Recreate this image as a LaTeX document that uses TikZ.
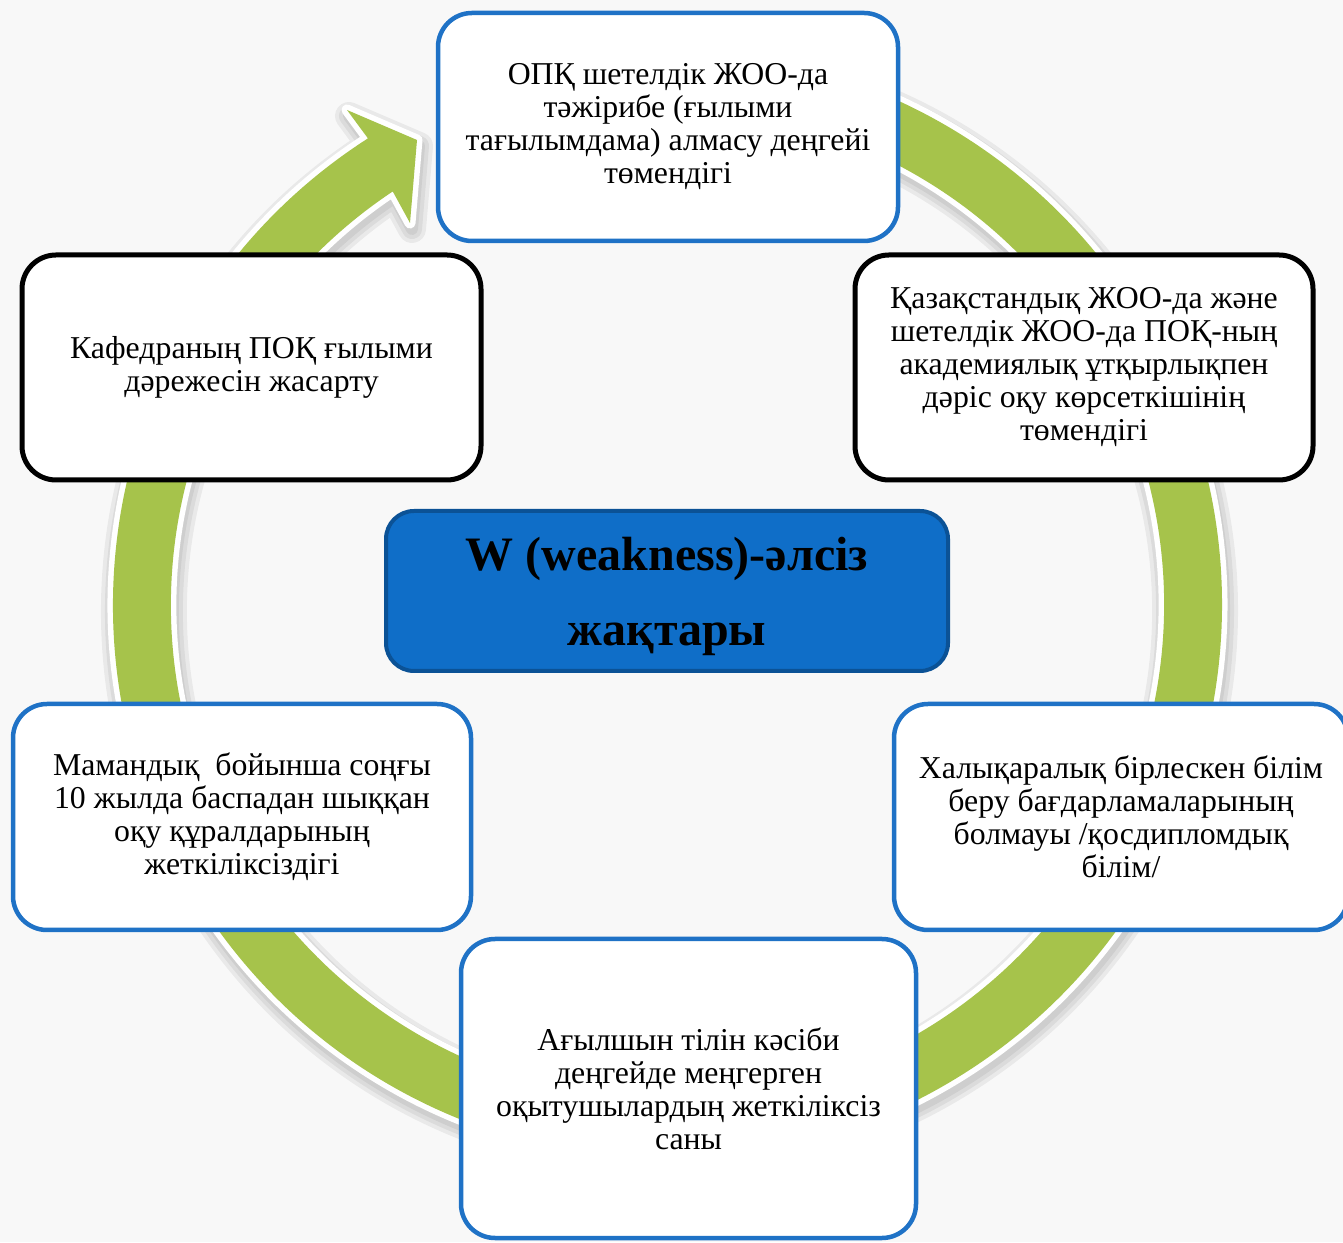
\documentclass[tikz,border=0pt]{standalone}
\usepackage{fontspec}
\setmainfont{Liberation Serif}
\definecolor{ringgreen}{HTML}{A6C34B}
\definecolor{boxblue}{HTML}{1F72C6}
\definecolor{centfill}{HTML}{0F6EC8}
\definecolor{centdraw}{HTML}{0B5296}
\definecolor{bggray}{HTML}{F8F8F8}
\newcommand\ringshape[1]{\path[#1] (367.94,1103.62) arc[start angle=122.7, end angle=435, radius=554.5] -- (796.0,1116.6) arc[start angle=435, end angle=123.6, radius=496.5] -- (410,1019) -- (417,1102) -- (347,1132) -- cycle;}
\begin{document}
\begin{tikzpicture}[x=1pt,y=1pt,
  txtbox/.style={fill=white, rounded corners=34, align=center, font=\fontsize{31.8}{33}\selectfont, inner sep=0pt},
  bluebox/.style={txtbox, draw=boxblue, line width=4.5},
  blackbox/.style={txtbox, draw=black, line width=5},
  centbox/.style={draw=centdraw, fill=centfill, rounded corners=28, line width=4, align=center, inner sep=0pt, text depth=0pt, font=\bfseries\fontsize{48}{75}\selectfont}]
\useasboundingbox (0,0) rectangle (1343,1242);
\clip (0,0) rectangle (1343,1242);
\fill[bggray] (0,0) rectangle (1343,1242);
% ring shadow
\begin{scope}[shift={(2,-6)}]
  \foreach \w in {28,20,12}{
    \begin{scope}[transparency group, opacity=0.06]
      \ringshape{fill=black, draw=black, line width=\w, line join=round}
    \end{scope}
  }
\end{scope}
% ring
\ringshape{draw=white, line width=11, line join=round}
\ringshape{fill=ringgreen}
% boxes
\node[bluebox, minimum width=460, minimum height=228] (top) at (668,1115)
  {ОПҚ шетелдік ЖОО-да\\тәжірибе (ғылыми\\тағылымдама) алмасу деңгейі\\төмендігі};
\node[blackbox, minimum width=458, minimum height=225] (ru) at (1084,874.5)
  {Қазақстандық ЖОО-да және\\шетелдік ЖОО-да ПОҚ-ның\\академиялық ұтқырлықпен\\дәріс оқу көрсеткішінің\\төмендігі};
\node[blackbox, minimum width=459, minimum height=225] (lu) at (251.5,874.5)
  {Кафедраның ПОҚ ғылыми\\дәрежесін жасарту};
\node[centbox, minimum width=562, minimum height=160] (center) at (667,651)
  {W (weakness)-әлсіз\\жақтары};
\node[bluebox, minimum width=458, minimum height=226] (ll) at (242,425)
  {Мамандық\ \ бойынша соңғы\\10 жылда баспадан шыққан\\оқу құралдарының\\жеткіліксіздігі};
\node[bluebox, minimum width=454, minimum height=226] (rl) at (1121,425)
  {Халықаралық бірлескен білім\\беру бағдарламаларының\\болмауы /қосдипломдық\\білім/};
\node[bluebox, minimum width=455, minimum height=299] (bot) at (688.5,153.5)
  {Ағылшын тілін кәсіби\\деңгейде меңгерген\\оқытушылардың жеткіліксіз\\саны};
\end{tikzpicture}
\end{document}
